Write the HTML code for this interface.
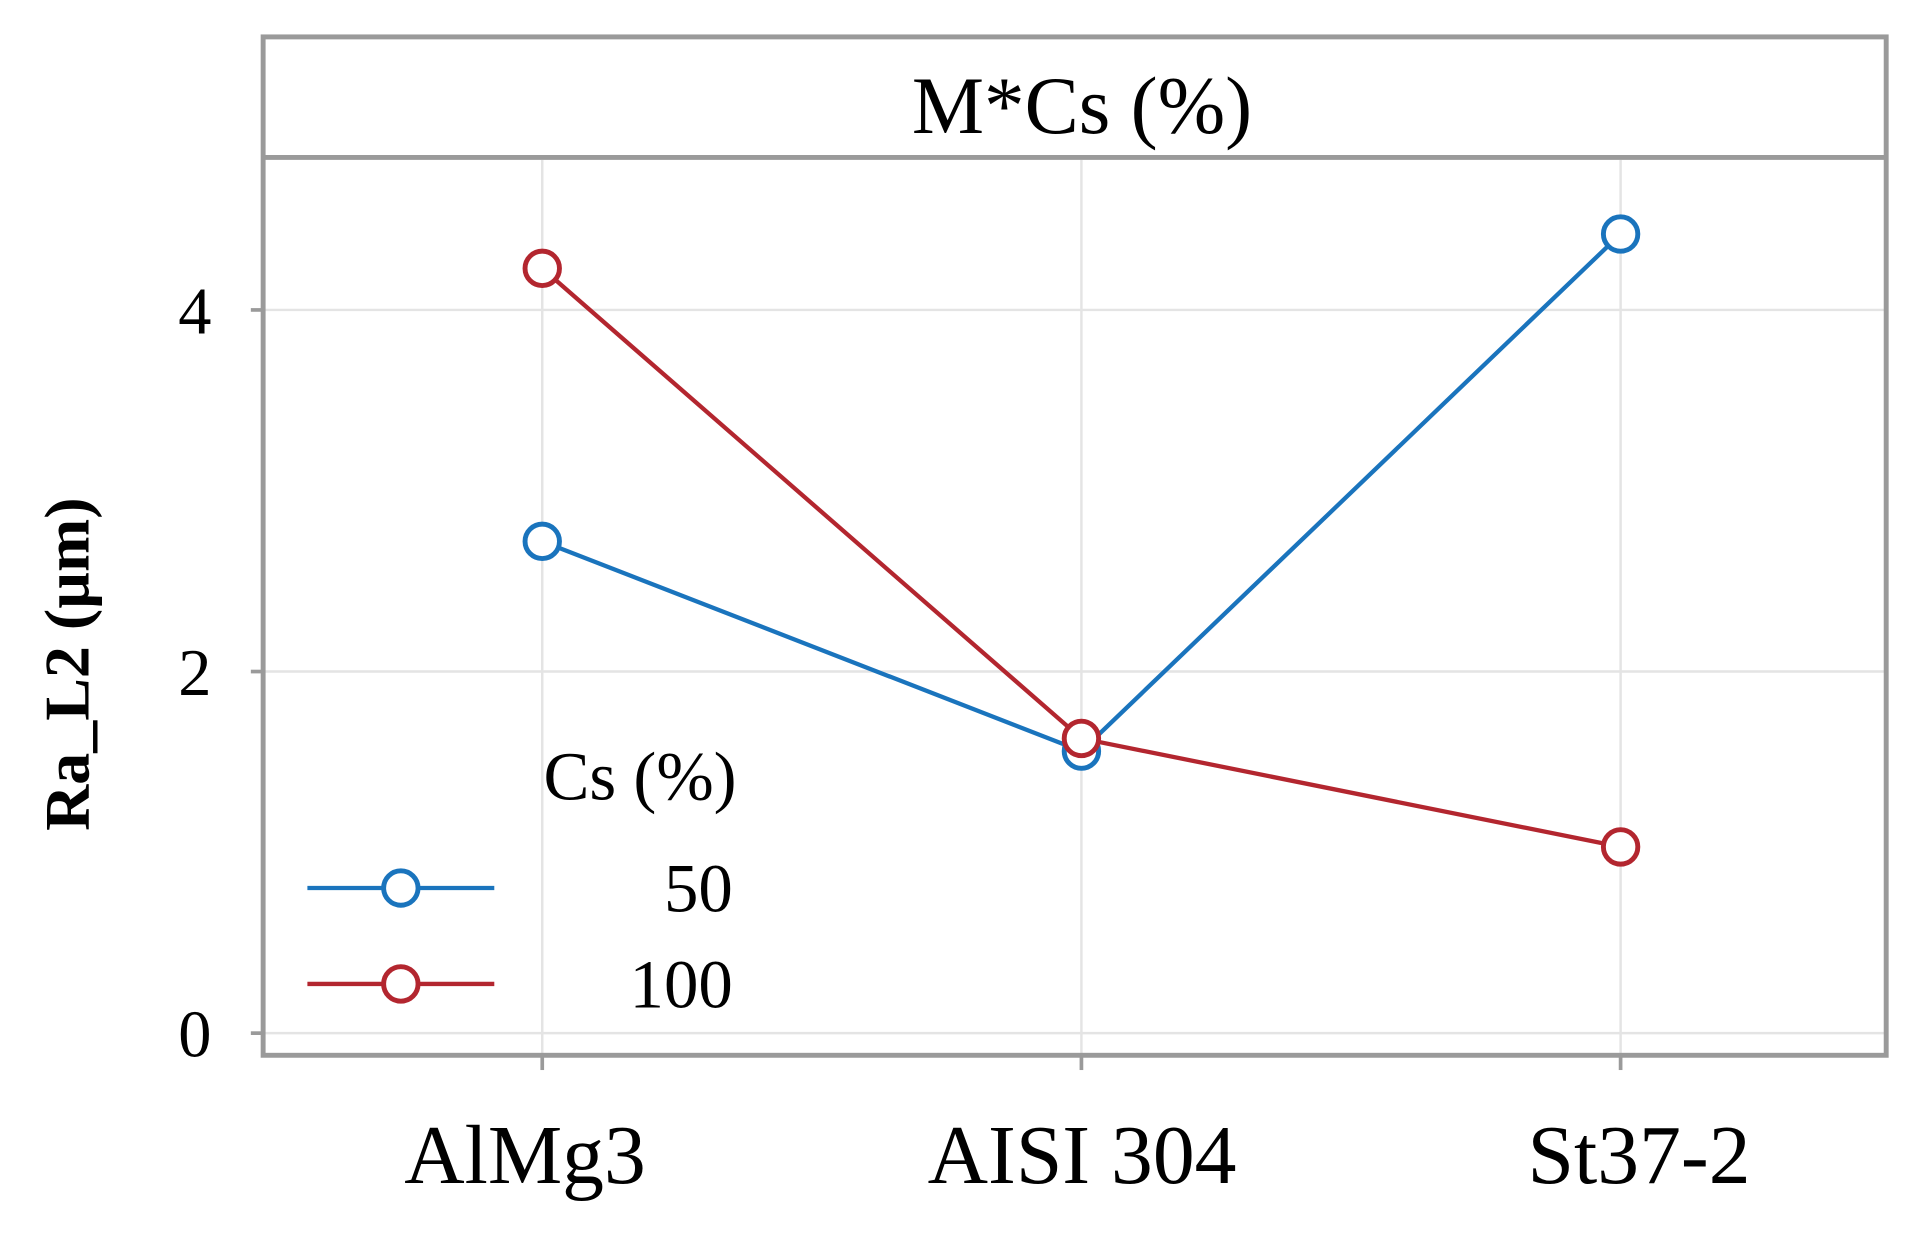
<!DOCTYPE html>
<html><head><meta charset="utf-8"><style>
html,body{margin:0;padding:0;background:#fff;}
svg{display:block;}
text{font-family:"Liberation Serif",serif;}
</style></head><body>
<svg id="chart" width="1928" height="1241" viewBox="0 0 1568 1009" preserveAspectRatio="none">
<g id="grid"></g>
<rect x="214" y="30" width="1320" height="828" fill="none" stroke="#9a9a9a" stroke-width="4"/>
<line x1="214" y1="128" x2="1534" y2="128" stroke="#9a9a9a" stroke-width="4"/>
<text x="880" y="108" font-size="66" text-anchor="middle">M*Cs (%)</text>
<g id="axes"></g>
<g id="series"></g>
<text transform="translate(72,540) rotate(-90)" font-size="52" font-weight="bold" text-anchor="middle">Ra_L2 (µm)</text>
<g>
<text x="442" y="650" font-size="56">Cs (%)</text>
<g id="legend-entries"></g>
</g>
</svg>
<script>
const categories = ["AlMg3", "AISI 304", "St37-2"];
const seriesNames = ["50", "100"];
const series50 = [2.72, 1.56, 4.42];
const series100 = [4.23, 1.63, 1.03];
const yTicks = [0, 2, 4];
const colors = ["#1a74bd", "#b3262f"];

const NS = "http://www.w3.org/2000/svg";
function xPos(i){ return 441 + i * 438.5; }
function yPos(v){ return 840 - v * 147; }
function labelX(i){ return 427 + i * 453; }
function mk(tag, attrs, parent){
  const e = document.createElementNS(NS, tag);
  for (const k in attrs) e.setAttribute(k, attrs[k]);
  parent.appendChild(e); return e;
}
const grid = document.getElementById('grid');
const axes = document.getElementById('axes');
const ser = document.getElementById('series');
yTicks.forEach(t => {
  const g = mk('line', {x1:214, x2:1534, y1:yPos(t), y2:yPos(t), stroke:'#e4e4e4', 'stroke-width':2}, grid);
  
  
  const tk = mk('line', {x1:204, x2:214, y1:yPos(t), y2:yPos(t), stroke:'#9a9a9a', 'stroke-width':3}, axes);
  
  
  const tl = mk('text', {x:172, y:yPos(t)+19, 'font-size':54, 'text-anchor':'end'}, axes);
  tl.textContent = t;
  
  
});
categories.forEach((c, i) => {
  const g = mk('line', {x1:xPos(i), x2:xPos(i), y1:130, y2:858, stroke:'#e4e4e4', 'stroke-width':2}, grid);
  
  
  const tk = mk('line', {x1:xPos(i), x2:xPos(i), y1:858, y2:870, stroke:'#9a9a9a', 'stroke-width':3}, axes);
  
  
  const tl = mk('text', {x:labelX(i), y:962, 'font-size':68, 'text-anchor':'middle'}, axes);
  tl.textContent = c;
  
  
});
[series50, series100].forEach((vals, s) => {
  const pts = vals.map((v, i) => xPos(i) + ',' + yPos(v)).join(' ');
  const pl = mk('polyline', {points:pts, fill:'none', stroke:colors[s], 'stroke-width':3.5}, ser);
  
  
  vals.forEach((v, i) => {
    const c = mk('circle', {cx:xPos(i), cy:yPos(v), r:14, fill:'#fff', stroke:colors[s], 'stroke-width':4}, ser);
    
    
  });
});
const le = document.getElementById('legend-entries');
seriesNames.forEach((n, s) => {
  const y = 722 + s * 78;
  const l = mk('line', {x1:250, x2:402, y1:y, y2:y, stroke:colors[s], 'stroke-width':3.5}, le);
  
  
  const c = mk('circle', {cx:326, cy:y, r:14, fill:'#fff', stroke:colors[s], 'stroke-width':4}, le);
  
  
  const t = mk('text', {x:596, y:y+19, 'font-size':56, 'text-anchor':'end'}, le);
  t.textContent = n;
  
  
});
</script>
</body></html>
